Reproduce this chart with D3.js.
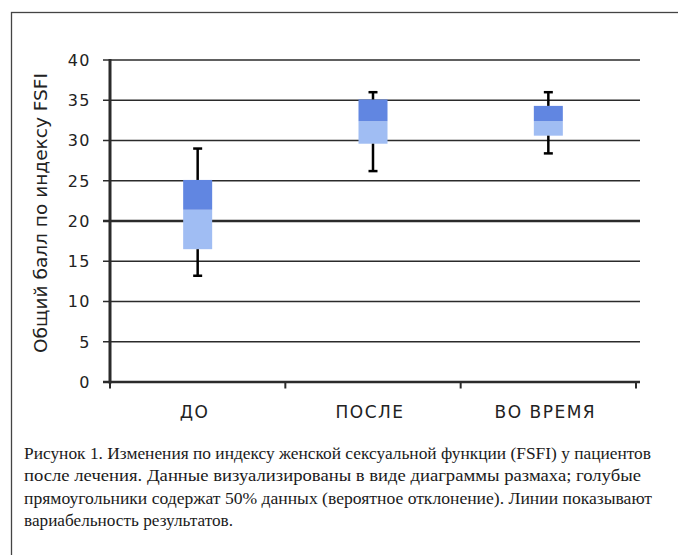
<!DOCTYPE html>
<meta charset="utf-8">
<style>
  body { margin: 0; background: #fff; }
  .tick-label { font-family: "DejaVu Sans", sans-serif; font-size: 16px; fill: #222; }
  .caption { font-family: "Liberation Serif", serif; font-size: 16.5px; fill: #1a1a1a; }
</style>
<svg width="678" height="555"></svg>
<script src="https://cdnjs.cloudflare.com/ajax/libs/d3/7.8.5/d3.min.js"></script>
<script>

var categories = ["ДО", "ПОСЛЕ", "ВО ВРЕМЯ"],
    whiskerLow = [13.2, 26.2, 28.4],
    boxLow = [16.5, 29.6, 30.6],
    medians = [21.4, 32.4, 32.4],
    boxHigh = [25.1, 35.1, 34.3],
    whiskerHigh = [29.0, 36.0, 36.0],
    yTicks = [0, 5, 10, 15, 20, 25, 30, 35, 40],
    yTitle = "Общий балл по индексу FSFI",
    caption = [
      "Рисунок 1. Изменения по индексу женской сексуальной функции (FSFI) у пациентов",
      "после лечения. Данные визуализированы в виде диаграммы размаха; голубые",
      "прямоугольники содержат 50% данных (вероятное отклонение). Линии показывают",
      "вариабельность результатов."
    ],
    captionWidths = [627, 617, 628, 209];

var data = categories.map(function(c, i) {
  return {cat: c, lo: whiskerLow[i], q1: boxLow[i], med: medians[i], q3: boxHigh[i], hi: whiskerHigh[i]};
});

var svg = d3.select("svg");

// frame around the figure
svg.append("rect")
    .attr("x", 11.5).attr("y", 12.5)
    .attr("width", 700).attr("height", 600)
    .attr("fill", "none")
    .attr("stroke", "#444")
    .attr("stroke-width", 1.3);

var x = d3.scaleBand().domain(categories).range([110, 636]);
var y = d3.scaleLinear().domain([0, 40]).range([382, 60]);

// gridlines
svg.append("g").selectAll("line")
    .data(yTicks.filter(function(d) { return d > 0; }))
  .enter().append("line")
    .attr("x1", 103).attr("x2", 640)
    .attr("y1", function(d) { return y(d); })
    .attr("y2", function(d) { return y(d); })
    .attr("stroke", "#2b2b2b")
    .attr("stroke-width", function(d) { return d === 20 ? 2.6 : 1.7; });

// x axis
svg.append("line")
    .attr("x1", 103).attr("x2", 640)
    .attr("y1", y(0)).attr("y2", y(0))
    .attr("stroke", "#2b2b2b").attr("stroke-width", 2.7);

var xTicks = categories.map(function(c) { return x(c); }).concat([x.range()[1]]);
svg.append("g").selectAll("line")
    .data(xTicks)
  .enter().append("line")
    .attr("x1", function(d) { return d; }).attr("x2", function(d) { return d; })
    .attr("y1", y(0)).attr("y2", y(0) + 6.5)
    .attr("stroke", "#2b2b2b").attr("stroke-width", 2);

// y axis
svg.append("line")
    .attr("x1", 110).attr("x2", 110)
    .attr("y1", y(40) - 1).attr("y2", y(0) + 1.5)
    .attr("stroke", "#2b2b2b").attr("stroke-width", 3);

svg.append("g").selectAll("text")
    .data(yTicks)
  .enter().append("text")
    .attr("class", "tick-label")
    .attr("x", 91)
    .attr("y", function(d) { return y(d); })
    .attr("dy", "0.36em")
    .attr("text-anchor", "end")
    .style("letter-spacing", "1.5px")
    .text(function(d) { return d; });

svg.append("text")
    .attr("class", "tick-label")
    .attr("transform", "translate(47,213) rotate(-90)")
    .attr("text-anchor", "middle")
    .attr("textLength", 280)
    .attr("lengthAdjust", "spacingAndGlyphs")
    .style("font-size", "17px")
    .text(yTitle);

svg.append("g").selectAll("text")
    .data(categories)
  .enter().append("text")
    .attr("class", "tick-label")
    .attr("x", function(d) { return x(d) + x.bandwidth() / 2 - 3; })
    .attr("y", 418)
    .attr("text-anchor", "middle")
    .style("font-size", "17px")
    .style("letter-spacing", "1.5px")
    .text(function(d) { return d; });

// boxes
var bw = 29;
var g = svg.append("g").selectAll("g")
    .data(data)
  .enter().append("g")
    .attr("transform", function(d) { return "translate(" + (x(d.cat) + x.bandwidth() / 2) + ",0)"; });

g.append("rect")
    .attr("x", -bw / 2).attr("width", bw)
    .attr("y", function(d) { return y(d.med); })
    .attr("height", function(d) { return y(d.q1) - y(d.med); })
    .attr("fill", "#a0bdf3");

g.append("rect")
    .attr("x", -bw / 2).attr("width", bw)
    .attr("y", function(d) { return y(d.q3); })
    .attr("height", function(d) { return y(d.med) - y(d.q3); })
    .attr("fill", "#6186e1");

// whiskers
g.append("line")
    .attr("x1", 0).attr("x2", 0)
    .attr("y1", function(d) { return y(d.q3); })
    .attr("y2", function(d) { return y(d.hi); })
    .attr("stroke", "#000").attr("stroke-width", 2.5);
g.append("line")
    .attr("x1", 0).attr("x2", 0)
    .attr("y1", function(d) { return y(d.q1); })
    .attr("y2", function(d) { return y(d.lo); })
    .attr("stroke", "#000").attr("stroke-width", 2.5);
g.append("line")
    .attr("x1", -4.5).attr("x2", 4.5)
    .attr("y1", function(d) { return y(d.hi); })
    .attr("y2", function(d) { return y(d.hi); })
    .attr("stroke", "#000").attr("stroke-width", 2.5);
g.append("line")
    .attr("x1", -4.5).attr("x2", 4.5)
    .attr("y1", function(d) { return y(d.lo); })
    .attr("y2", function(d) { return y(d.lo); })
    .attr("stroke", "#000").attr("stroke-width", 2.5);

// caption
svg.append("g").selectAll("text")
    .data(caption)
  .enter().append("text")
    .attr("class", "caption")
    .attr("x", 24)
    .attr("y", function(d, i) { return 459 + i * 22.4; })
    .attr("textLength", function(d, i) { return captionWidths[i]; })
    .attr("lengthAdjust", "spacingAndGlyphs")
    .text(function(d) { return d; });

</script>
